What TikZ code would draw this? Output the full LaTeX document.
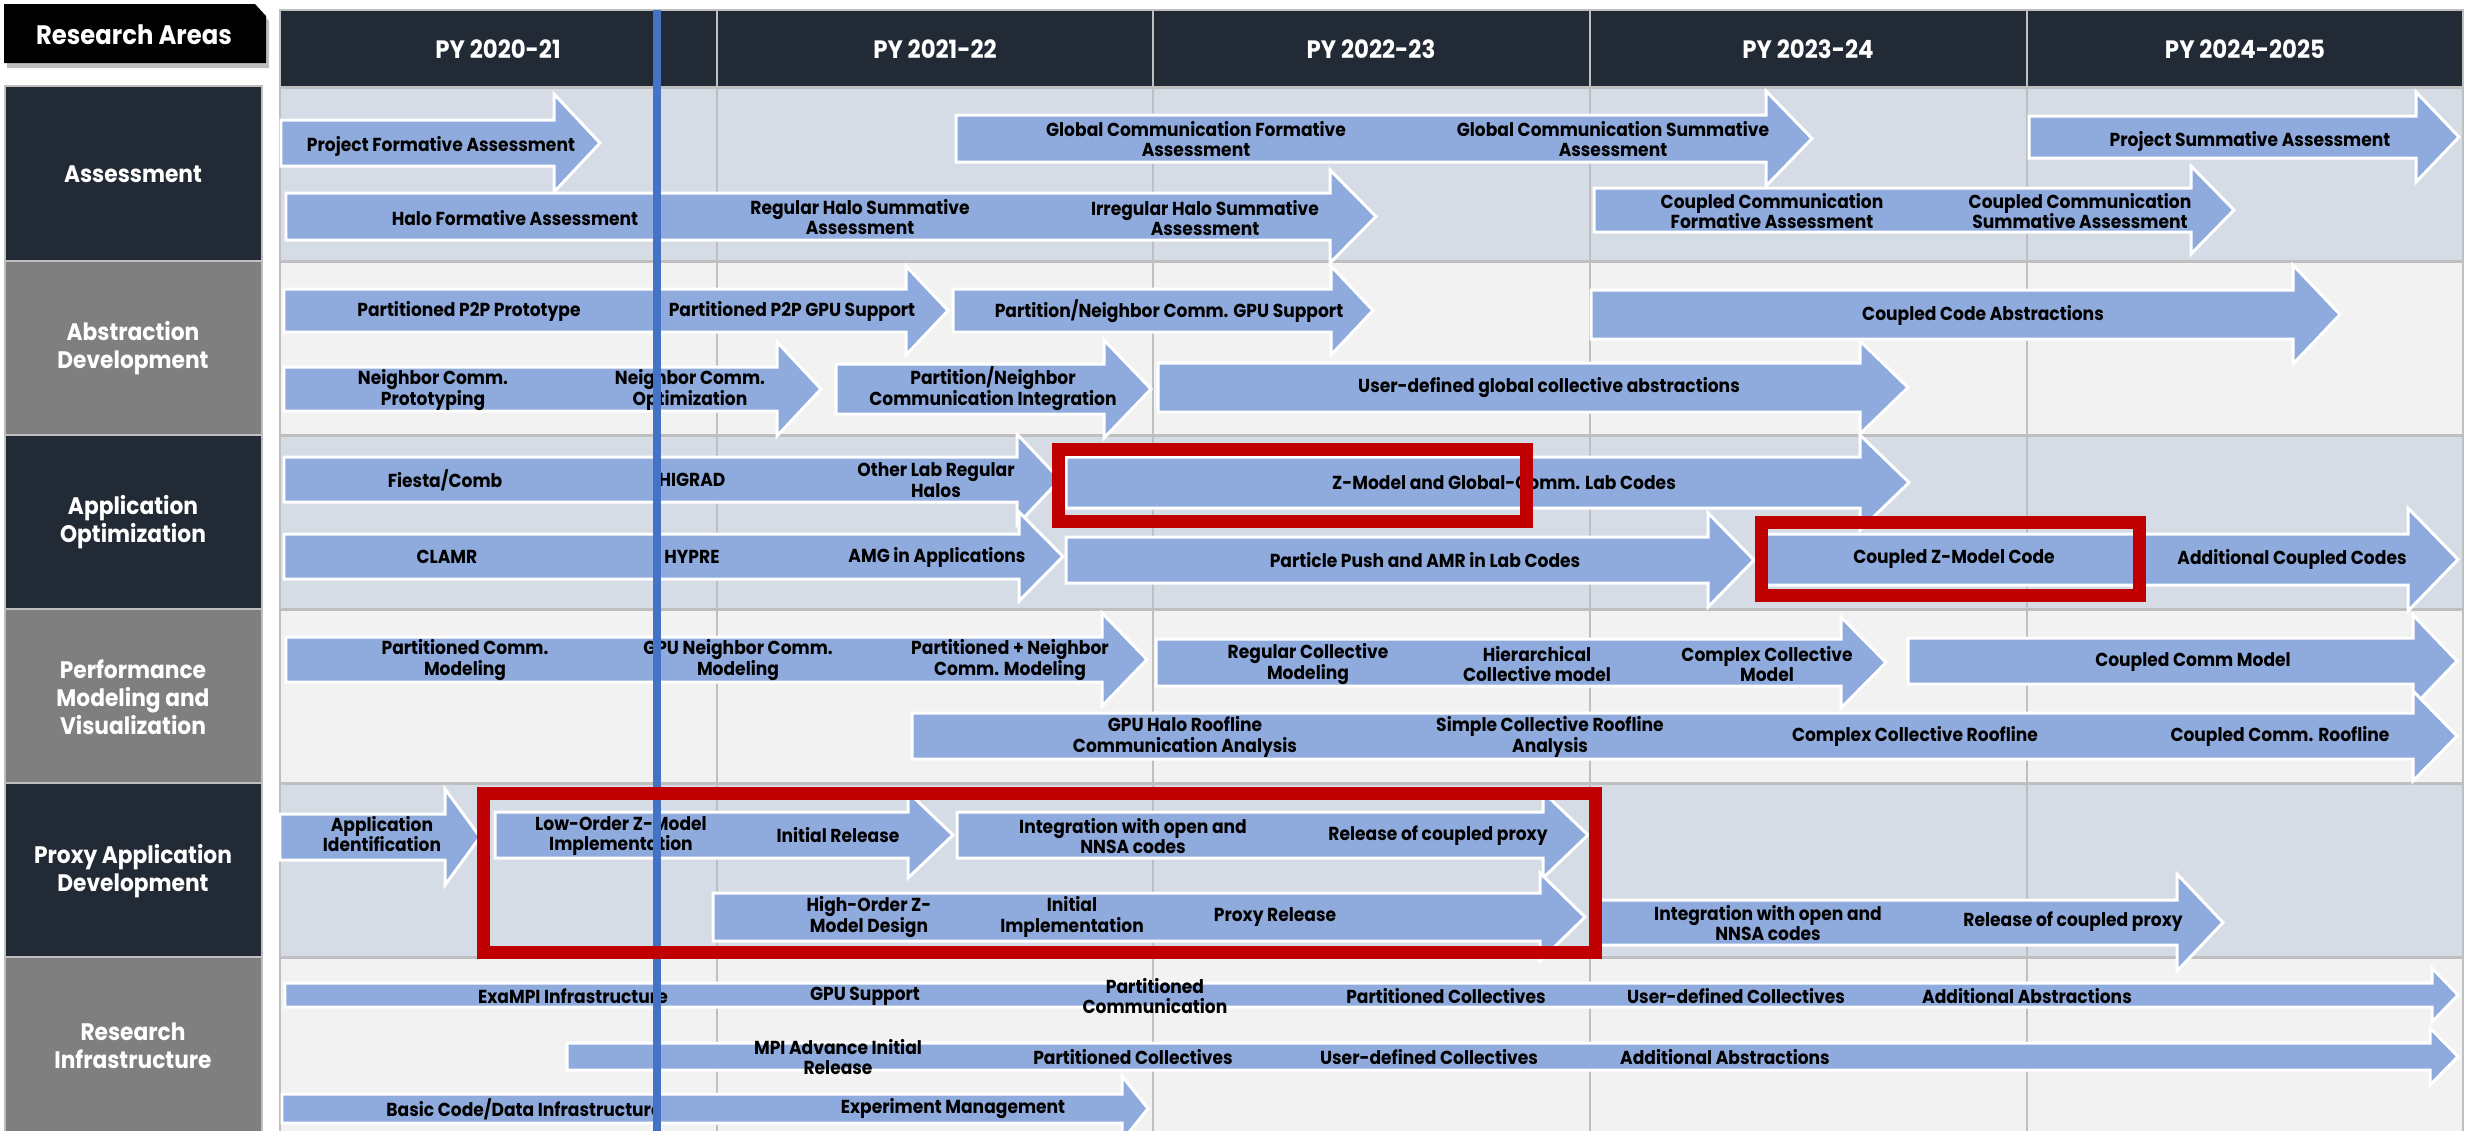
\documentclass[tikz,border=0pt]{standalone}
\usepackage{fontspec}
\setmainfont{Poppins}[FakeStretch=0.91]
\usepackage{xcolor}
\usepackage{tikz}

\definecolor{navy}{HTML}{222A35}
\definecolor{areagray}{HTML}{7F7F7F}
\definecolor{bandblue}{HTML}{D6DCE5}
\definecolor{bandgray}{HTML}{F2F2F2}
\definecolor{barblue}{HTML}{8FAADC}
\definecolor{nowblue}{HTML}{4472C4}
\definecolor{boxred}{HTML}{C00000}
\definecolor{gridgray}{HTML}{BFBFBF}

\begin{document}
\begin{tikzpicture}[x=0.02cm, y=-0.02cm,
  roadbar/.style={fill=barblue, draw=white, line width=1.7pt},
  lbl/.style={font=\fontsize{10.7}{11.9}\selectfont\bfseries, align=center, inner sep=0pt},
  hdr/.style={font=\fontsize{14.3}{16}\selectfont\bfseries, text=white, inner sep=0pt},
  arealbl/.style={font=\fontsize{13.6}{15.9}\selectfont\bfseries, text=white, align=center, inner sep=0pt},
  redbox/.style={draw=boxred, line width=7.4pt}]
\useasboundingbox (0,0) rectangle (2483,1130);

% ============= LEFT: research area column =============
\fill[black!25] (7,9) -- (258,9) -- (269,21) -- (269,68) -- (7,68) -- cycle;
\fill[black] (4,4) -- (255,4) -- (266,16) -- (266,63) -- (4,63) -- cycle;
\node[hdr, font=\fontsize{15.2}{16}\selectfont\bfseries] (ra) at (134,35) {Research Areas};

\filldraw[fill=navy, draw=gridgray, line width=1.2pt] (5,86) rectangle (262,261);
\filldraw[fill=areagray, draw=gridgray, line width=1.2pt] (5,261) rectangle (262,435);
\filldraw[fill=navy, draw=gridgray, line width=1.2pt] (5,435) rectangle (262,609);
\filldraw[fill=areagray, draw=gridgray, line width=1.2pt] (5,609) rectangle (262,783);
\filldraw[fill=navy, draw=gridgray, line width=1.2pt] (5,783) rectangle (262,957);
\filldraw[fill=areagray, draw=gridgray, line width=1.2pt] (5,957) rectangle (262,1135);
\node[arealbl] (asm) at (133,174) {Assessment};
\node[arealbl] (abs) at (133,348) {Abstraction\\Development};
\node[arealbl] (app) at (133,522) {Application\\Optimization};
\node[arealbl] (perf) at (133,697) {Performance\\Modeling and\\Visualization};
\node[arealbl] (proxy) at (133,871) {Proxy Application\\Development};
\node[arealbl] (infra) at (133,1046) {Research\\Infrastructure};

% ============= GRID: header and row bands =============
\fill[navy] (280,10) rectangle (2463,87);
\fill[bandblue] (280,87) rectangle (2463,261);
\fill[bandgray] (280,261) rectangle (2463,435);
\fill[bandblue] (280,435) rectangle (2463,609);
\fill[bandgray] (280,609) rectangle (2463,783);
\fill[bandblue] (280,783) rectangle (2463,957);
\fill[bandgray] (280,957) rectangle (2463,1135);

% column and row separators
\draw[gridgray, line width=1.1pt] (717,10) -- (717,1135) (1153,10) -- (1153,1135)
  (1590,10) -- (1590,1135) (2027,10) -- (2027,1135);
\draw[gridgray, line width=1.7pt] (280,87) -- (2463,87) (280,261) -- (2463,261)
  (280,435) -- (2463,435) (280,609) -- (2463,609) (280,783) -- (2463,783)
  (280,957) -- (2463,957);
\draw[gridgray, line width=1.2pt] (280,10) rectangle (2463,1135);

\node[hdr] (py1) at (498,49) {PY 2020-21};
\node[hdr] (py2) at (935,49) {PY 2021-22};
\node[hdr] (py3) at (1371,49) {PY 2022-23};
\node[hdr] (py4) at (1808,49) {PY 2023-24};
\node[hdr] (py5) at (2245,49) {PY 2024-2025};

% ============= Assessment =============
\draw[roadbar] (281,120) -- (554,120) -- (554,94) -- (600,143) -- (554,192) -- (554,166) -- (281,166) -- cycle;
\draw[roadbar] (286,193) -- (1330,193) -- (1330,170) -- (1376,216.5) -- (1330,263) -- (1330,240) -- (286,240) -- cycle;
\draw[roadbar] (956,115) -- (1766,115) -- (1766,91) -- (1812,138.5) -- (1766,186) -- (1766,162) -- (956,162) -- cycle;
\draw[roadbar] (2029,116) -- (2416,116) -- (2416,92) -- (2459,137) -- (2416,182) -- (2416,158) -- (2029,158) -- cycle;
\draw[roadbar] (1594,188) -- (2191,188) -- (2191,166) -- (2234,210) -- (2191,254) -- (2191,232) -- (1594,232) -- cycle;
\node[lbl] (pfa) at (441,146) {Project Formative Assessment};
\node[lbl] (hfa) at (515,218) {Halo Formative Assessment};
\node[lbl] (rhsa) at (860,217) {Regular Halo Summative\\Assessment};
\node[lbl] (ihsa) at (1205,218) {Irregular Halo Summative\\Assessment};
\node[lbl] (gcfa) at (1196,139) {Global Communication Formative\\Assessment};
\node[lbl] (gcsa) at (1613,139) {Global Communication Summative\\Assessment};
\node[lbl] (psa) at (2250,141) {Project Summative Assessment};
\node[lbl] (ccfa) at (1772,211) {Coupled Communication\\Formative Assessment};
\node[lbl] (ccsa) at (2080,211) {Coupled Communication\\Summative Assessment};

% ============= Abstraction Development =============
\draw[roadbar] (284,289) -- (906,289) -- (906,266) -- (948,310.5) -- (906,355) -- (906,332) -- (284,332) -- cycle;
\draw[roadbar] (953,289) -- (1331,289) -- (1331,266) -- (1373,310.5) -- (1331,355) -- (1331,332) -- (953,332) -- cycle;
\draw[roadbar] (1591,290) -- (2293,290) -- (2293,265) -- (2340,314.5) -- (2293,364) -- (2293,339) -- (1591,339) -- cycle;
\draw[roadbar] (284,367) -- (777,367) -- (777,342) -- (821,389) -- (777,436) -- (777,411) -- (284,411) -- cycle;
\draw[roadbar] (836,364) -- (1104,364) -- (1104,340) -- (1151,389) -- (1104,438) -- (1104,414) -- (836,414) -- cycle;
\draw[roadbar] (1158,363) -- (1860,363) -- (1860,341) -- (1908,387.5) -- (1860,434) -- (1860,412) -- (1158,412) -- cycle;
\node[lbl] (p2pp) at (469,311) {Partitioned P2P Prototype};
\node[lbl] (p2pg) at (792,311) {Partitioned P2P GPU Support};
\node[lbl] (pngs) at (1169,311) {Partition/Neighbor Comm. GPU Support};
\node[lbl] (cca) at (1983,315) {Coupled Code Abstractions};
\node[lbl] (ncp) at (433,390) {Neighbor Comm.\\Prototyping};
\node[lbl] (nco) at (690,390) {Neighbor Comm.\\Optimization};
\node[lbl] (pnci) at (993,389) {Partition/Neighbor\\Communication Integration};
\node[lbl] (udgc) at (1549,388) {User-defined global collective abstractions};

% ============= Application Optimization =============
\draw[roadbar] (284,457) -- (1017,457) -- (1017,434) -- (1060,479.5) -- (1017,525) -- (1017,502) -- (284,502) -- cycle;
\draw[roadbar] (1066,457) -- (1860,457) -- (1860,435) -- (1909,482.5) -- (1860,530) -- (1860,508) -- (1066,508) -- cycle;
\draw[roadbar] (284,534) -- (1019,534) -- (1019,512) -- (1063,556.5) -- (1019,601) -- (1019,579) -- (284,579) -- cycle;
\draw[roadbar] (1066,537) -- (1708,537) -- (1708,513) -- (1754,560) -- (1708,607) -- (1708,583) -- (1066,583) -- cycle;
\draw[roadbar] (1760,534) -- (2408,534) -- (2408,508) -- (2458,559.5) -- (2408,611) -- (2408,585) -- (1760,585) -- cycle;
\node[lbl] (fiesta) at (445,480) {Fiesta/Comb};
\node[lbl] (higrad) at (692,480) {HIGRAD};
\node[lbl] (olrh) at (936,480) {Other Lab Regular\\Halos};
\node[lbl] (zmod) at (1504,483) {Z-Model and Global-Comm. Lab Codes};
\node[lbl] (clamr) at (447,557) {CLAMR};
\node[lbl] (hypre) at (692,557) {HYPRE};
\node[lbl] (amg) at (937,557) {AMG in Applications};
\node[lbl] (ppamr) at (1425,560) {Particle Push and AMR in Lab Codes};
\node[lbl] (czmc) at (1954,559) {Coupled Z-Model Code};
\node[lbl] (acc) at (2292,559) {Additional Coupled Codes};

% ============= Performance Modeling and Visualization =============
\draw[roadbar] (286,637) -- (1102,637) -- (1102,613) -- (1147,659.5) -- (1102,706) -- (1102,682) -- (286,682) -- cycle;
\draw[roadbar] (1156,639) -- (1841,639) -- (1841,617) -- (1886,662.5) -- (1841,708) -- (1841,686) -- (1156,686) -- cycle;
\draw[roadbar] (1908,638) -- (2413,638) -- (2413,615) -- (2457,661) -- (2413,707) -- (2413,684) -- (1908,684) -- cycle;
\draw[roadbar] (912,713) -- (2413,713) -- (2413,691) -- (2457,736) -- (2413,781) -- (2413,759) -- (912,759) -- cycle;
\node[lbl] (pcm) at (465,660) {Partitioned Comm.\\Modeling};
\node[lbl] (gncm) at (738,660) {GPU Neighbor Comm.\\Modeling};
\node[lbl] (pncm) at (1010,660) {Partitioned + Neighbor\\Comm. Modeling};
\node[lbl] (rcm) at (1308,664) {Regular Collective\\Modeling};
\node[lbl] (hcm) at (1537,664) {Hierarchical\\Collective model};
\node[lbl] (ccm) at (1767,664) {Complex Collective\\Model};
\node[lbl] (cpcm) at (2193,662) {Coupled Comm Model};
\node[lbl] (ghrf) at (1185,737) {GPU Halo Roofline\\Communication Analysis};
\node[lbl] (scrf) at (1550,737) {Simple Collective Roofline\\Analysis};
\node[lbl] (ccrf) at (1915,736) {Complex Collective Roofline};
\node[lbl] (cprf) at (2280,736) {Coupled Comm. Roofline};

% ============= Proxy Application Development =============
\draw[roadbar] (280,814) -- (445,814) -- (445,789) -- (480,837) -- (445,885) -- (445,860) -- (280,860) -- cycle;
\draw[roadbar] (495,812) -- (908,812) -- (908,792) -- (953,835) -- (908,878) -- (908,858) -- (495,858) -- cycle;
\draw[roadbar] (957,812) -- (1543,812) -- (1543,792) -- (1588,835) -- (1543,878) -- (1543,858) -- (957,858) -- cycle;
\draw[roadbar] (713,893) -- (1540,893) -- (1540,873) -- (1585,917) -- (1540,961) -- (1540,941) -- (713,941) -- cycle;
\draw[roadbar] (1600,900) -- (2177,900) -- (2177,874) -- (2223,922.5) -- (2177,971) -- (2177,945) -- (1600,945) -- cycle;
\node[lbl] (appid) at (382,834) {Application\\Identification};
\node[lbl] (lozm) at (621,836) {Low-Order Z-Model\\Implementation};
\node[lbl] (inrel) at (838,835) {Initial Release};
\node[lbl] (integ) at (1133,836) {Integration with open and\\NNSA codes};
\node[lbl] (relcp) at (1438,836) {Release of coupled proxy};
\node[lbl] (hozm) at (869,917) {High-Order Z-\\Model Design};
\node[lbl] (inimp) at (1072,917) {Initial\\Implementation};
\node[lbl] (prel) at (1275,917) {Proxy Release};
\node[lbl] (integb) at (1768,923) {Integration with open and\\NNSA codes};
\node[lbl] (relcpb) at (2073,922) {Release of coupled proxy};

% ============= Research Infrastructure =============
\draw[roadbar] (285,983) -- (2432,983) -- (2432,968) -- (2458,995) -- (2432,1022) -- (2432,1007) -- (285,1007) -- cycle;
\draw[roadbar] (567,1043) -- (2430,1043) -- (2430,1028) -- (2458,1056.5) -- (2430,1085) -- (2430,1070) -- (567,1070) -- cycle;
\draw[roadbar] (282,1094) -- (1122,1094) -- (1122,1076) -- (1148,1108.5) -- (1122,1141) -- (1122,1123) -- (282,1123) -- cycle;
\node[lbl] (exampi) at (573,996) {ExaMPI Infrastructure};
\node[lbl] (gpus) at (865,996) {GPU Support};
\node[lbl] (pcomm) at (1155,996) {Partitioned\\Communication};
\node[lbl] (pcoll) at (1446,996) {Partitioned Collectives};
\node[lbl] (udcoll) at (1736,996) {User-defined Collectives};
\node[lbl] (addab) at (2027,996) {Additional Abstractions};
\node[lbl] (mpiadv) at (838,1057) {MPI Advance Initial\\Release};
\node[lbl] (pcollb) at (1133,1057) {Partitioned Collectives};
\node[lbl] (udcollb) at (1429,1057) {User-defined Collectives};
\node[lbl] (addabb) at (1725,1057) {Additional Abstractions};
\node[lbl] (bcdi) at (524,1109) {Basic Code/Data Infrastructure};
\node[lbl] (expm) at (953,1109) {Experiment Management};

% ============= current-date marker and highlights =============
\draw[nowblue, line width=4pt] (657,10) -- (657,1135);
\draw[redbox] (1058.5,449.5) rectangle (1526.5,521.5);
\draw[redbox] (1761.5,522.5) rectangle (2139.5,595.5);
\draw[redbox] (483.5,793.5) rectangle (1595.5,952.5);
\end{tikzpicture}
\end{document}
